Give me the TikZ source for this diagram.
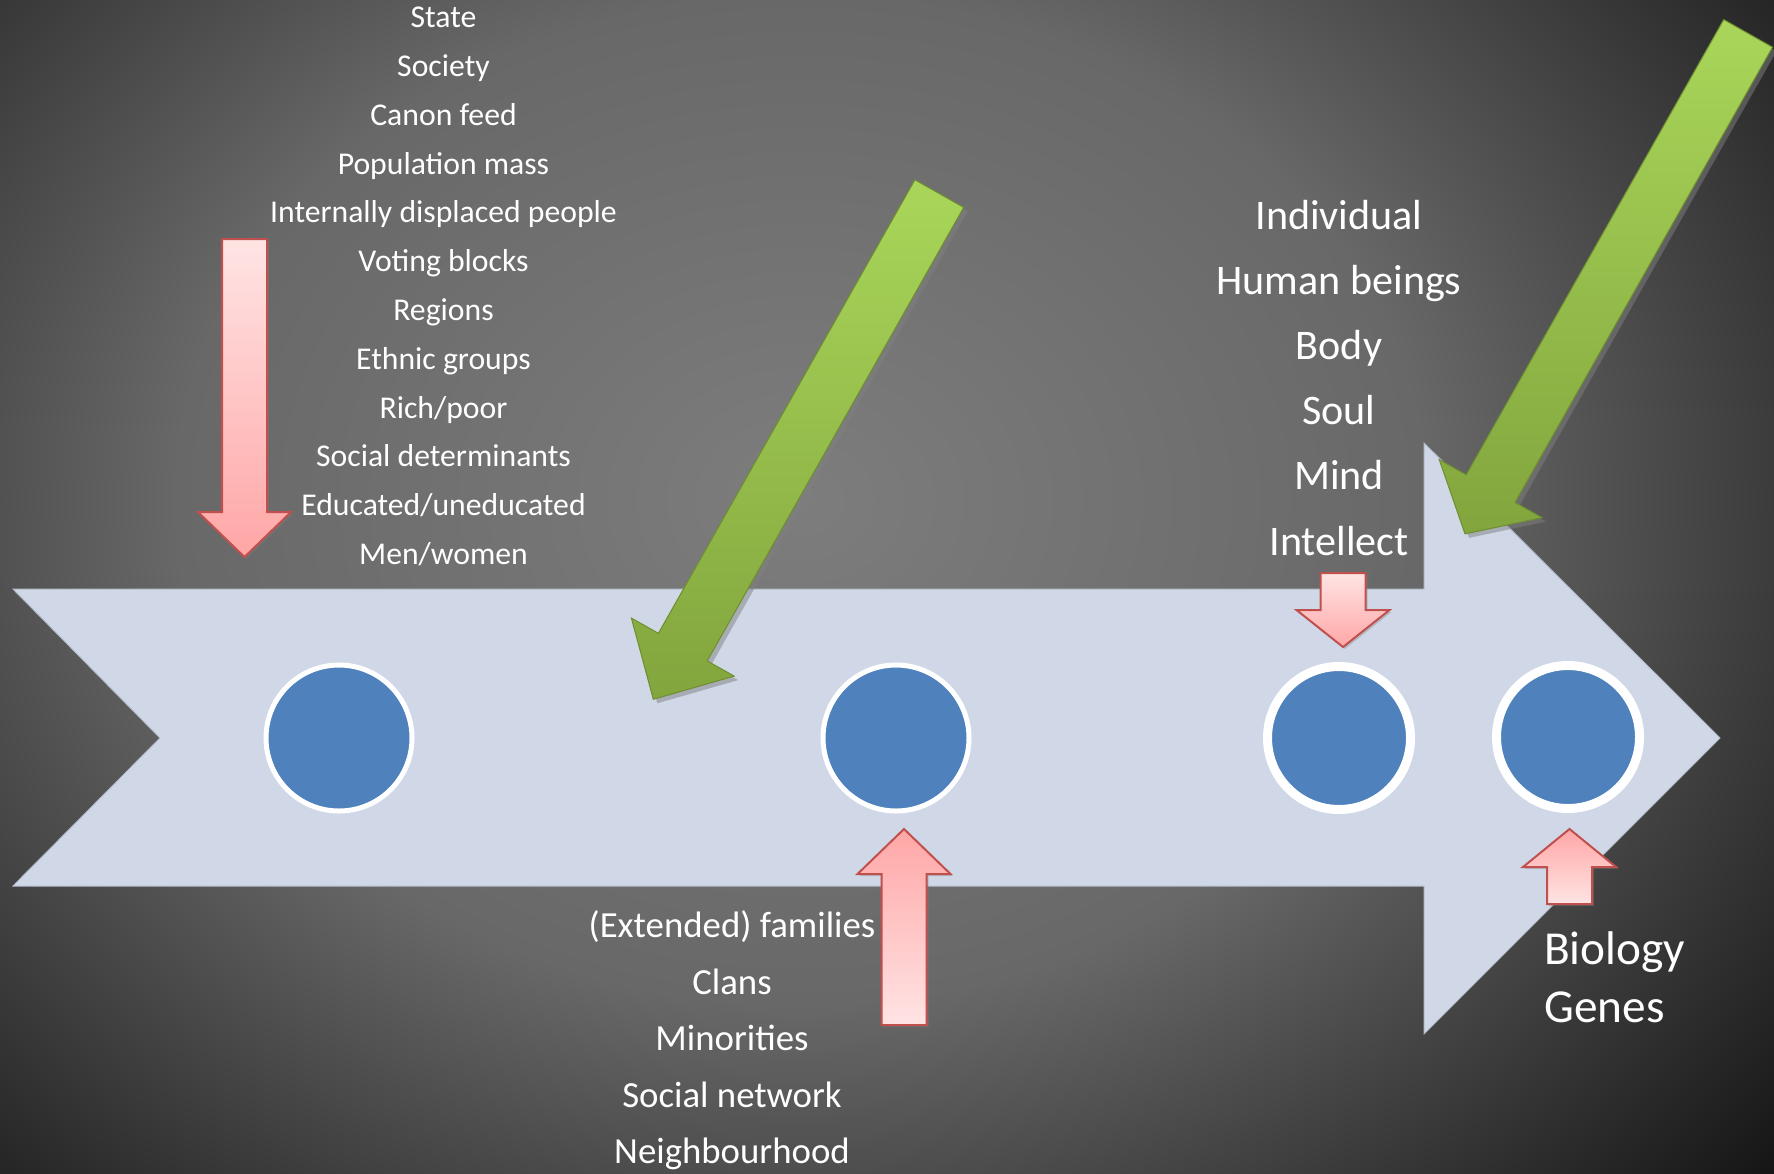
\documentclass[tikz,border=0pt]{standalone}
\usepackage{fontspec}
\setmainfont{Carlito}
\usepackage{xcolor}
\usepackage{tikz}
\usetikzlibrary{arrows.meta,shadows}

\definecolor{glowcentre}{HTML}{7D7D7D}
\definecolor{glowmid}{HTML}{686868}
\definecolor{glowedge}{HTML}{131313}
\definecolor{bandblue}{HTML}{D0D8E8}
\definecolor{bandedge}{HTML}{B4BCCC}
\definecolor{dotblue}{HTML}{4F81BD}
\definecolor{pinklight}{HTML}{FFE4E4}
\definecolor{pinkdark}{HTML}{FFA6A6}
\definecolor{pinkedge}{HTML}{C0504D}
\definecolor{greenlight}{HTML}{A9D65A}
\definecolor{greendark}{HTML}{82A53D}
\definecolor{greenedge}{HTML}{6E8E30}

% tikz fits the inner 50bp square of a shading to the path
\pgfdeclareradialshading{slideglow}{\pgfpoint{0bp}{0bp}}{color(0bp)=(glowcentre); color(12bp)=(glowmid); color(25bp)=(glowedge); color(50bp)=(glowedge)}

\begin{document}
\begin{tikzpicture}[x=1pt,y=-1pt,
  dot/.style={circle,fill=dotblue,draw=white,line width=5pt,minimum size=146pt,inner sep=0pt},
  bigdot/.style={dot,line width=9pt,minimum size=143pt},
  txt/.style={text=white,anchor=base,inner sep=0pt},
  soctxt/.style={txt,font=\fontsize{31.7}{38}\selectfont},
  famtxt/.style={txt,font=\fontsize{36.8}{44}\selectfont},
  indtxt/.style={txt,font=\fontsize{42.1}{50}\selectfont},
  biotxt/.style={txt,anchor=base west,font=\fontsize{47.3}{57}\selectfont},
  pinkdown/.style={draw=pinkedge,line width=2pt,line join=miter,top color=pinklight,bottom color=pinkdark,
    drop shadow={shadow xshift=2pt,shadow yshift=-2pt,opacity=0.35}},
  pinkup/.style={pinkdown,top color=pinkdark,bottom color=pinklight},
  greenarrow/.style={draw=greenedge,line width=1pt,top color=greenlight,bottom color=greendark,
    drop shadow={shadow xshift=4pt,shadow yshift=-4pt,opacity=0.5}}]
  \useasboundingbox (0,0) rectangle (1774,1173);

  % backdrop
  \fill[glowedge] (0,0) rectangle (1774,1173);
  \begin{scope}
    \clip (0,0) rectangle (1774,1173);
    \shade[shading=slideglow] (-500,-550) rectangle (2100,1550);
  \end{scope}

  % the long chevron arrow
  \filldraw[fill=bandblue,draw=bandedge,line width=1pt] (13,589) -- (1424,589) -- (1424,443) -- (1720,738)
    -- (1424,1034) -- (1424,886) -- (13,886) -- (160,738) -- cycle;

  \node[dot] (lvl1) at (339,738) {};
  \node[dot] (lvl2) at (896,738) {};
  \node[bigdot] (lvl3) at (1339,738) {};
  \node[bigdot] (lvl4) at (1568,737) {};

  % pink block arrows
  \path[pinkdown] (222,239) -- (267,239) -- (267,512) -- (291,512) -- (244.5,557) -- (198,512) -- (222,512) -- cycle;
  \path[pinkup] (881.5,1025) -- (926.5,1025) -- (926.5,874) -- (950.5,874) -- (904,829) -- (857.5,874) -- (881.5,874) -- cycle;
  \path[pinkdown] (1320.5,573) -- (1365.5,573) -- (1365.5,610) -- (1389.5,610) -- (1343,647) -- (1296.5,610) -- (1320.5,610) -- cycle;
  \path[pinkup] (1547,904) -- (1592,904) -- (1592,867) -- (1616,867) -- (1569.5,829) -- (1523,867) -- (1547,867) -- cycle;

  % green arrows
  \path[greenarrow] (914.9,179.8) -- (963.7,207.4) -- (707.2,660.9) -- (734.2,676.1) -- (653.3,699.3) -- (631.4,618.1) -- (658.4,633.3) -- cycle;
  \path[greenarrow] (1723.7,19.6) -- (1772.5,47.2) -- (1515,502.4) -- (1542,517.6) -- (1465,533.9) -- (1439.2,459.6) -- (1466.2,474.8) -- cycle;

  % labels
  \node[soctxt] (soc1) at (443.5,27.6) {State};
  \node[soctxt] (soc2) at (443.5,76.4) {Society};
  \node[soctxt] (soc3) at (443.5,125.2) {Canon feed};
  \node[soctxt] (soc4) at (443.5,174.0) {Population mass};
  \node[soctxt] (soc5) at (443.5,222.8) {Internally displaced people};
  \node[soctxt] (soc6) at (443.5,271.6) {Voting blocks};
  \node[soctxt] (soc7) at (443.5,320.4) {Regions};
  \node[soctxt] (soc8) at (443.5,369.2) {Ethnic groups};
  \node[soctxt] (soc9) at (443.5,418.0) {Rich/poor};
  \node[soctxt] (soc10) at (443.5,466.8) {Social determinants};
  \node[soctxt] (soc11) at (443.5,515.6) {Educated/uneducated};
  \node[soctxt] (soc12) at (443.5,564.4) {Men/women};

  \node[famtxt] (fam1) at (732,937.4) {(Extended) families};
  \node[famtxt] (fam2) at (732,994.0) {Clans};
  \node[famtxt] (fam3) at (732,1050.6) {Minorities};
  \node[famtxt] (fam4) at (732,1107.2) {Social network};
  \node[famtxt] (fam5) at (732,1163.8) {Neighbourhood};

  \node[indtxt] (ind1) at (1339,229.0) {Individual};
  \node[indtxt] (ind2) at (1339,294.2) {Human beings};
  \node[indtxt] (ind3) at (1339,359.4) {Body};
  \node[indtxt] (ind4) at (1339,424.6) {Soul};
  \node[indtxt] (ind5) at (1339,489.8) {Mind};
  \node[indtxt] (ind6) at (1339,555.0) {Intellect};

  \node[biotxt] (bio1) at (1544,964) {Biology};
  \node[biotxt] (bio2) at (1544,1022) {Genes};
\end{tikzpicture}
\end{document}
